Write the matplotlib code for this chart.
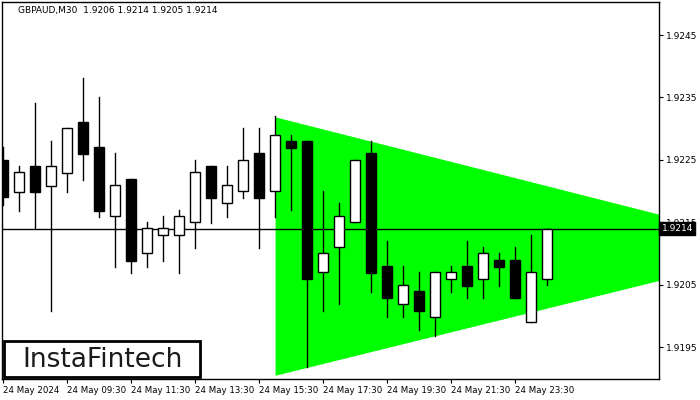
import matplotlib
matplotlib.use("Agg")
import matplotlib.pyplot as plt
from matplotlib.patches import Rectangle

#Data (GBPAUD M30, 35 candles)
opens  = [1.92250, 1.92198, 1.92240, 1.92208, 1.92229, 1.92311, 1.92271, 1.92160, 1.92219, 1.92101,
          1.92130, 1.92130, 1.92150, 1.92240, 1.92181, 1.92200, 1.92261, 1.92200, 1.92280, 1.92280,
          1.92070, 1.92110, 1.92150, 1.92261, 1.92080, 1.92019, 1.92040, 1.91998, 1.92059, 1.92080,
          1.92059, 1.92089, 1.92089, 1.91990, 1.92060]
highs  = [1.92271, 1.92240, 1.92341, 1.92280, 1.92301, 1.92381, 1.92351, 1.92261, 1.92219, 1.92150,
          1.92160, 1.92170, 1.92250, 1.92240, 1.92240, 1.92301, 1.92301, 1.92320, 1.92290, 1.92280,
          1.92200, 1.92181, 1.92250, 1.92280, 1.92120, 1.92080, 1.92070, 1.92070, 1.92080, 1.92120,
          1.92110, 1.92101, 1.92110, 1.92130, 1.92140]
lows   = [1.92178, 1.92168, 1.92141, 1.92008, 1.92198, 1.92218, 1.92158, 1.92078, 1.92069, 1.92078,
          1.92088, 1.92069, 1.92109, 1.92149, 1.92158, 1.92189, 1.92109, 1.92158, 1.92170, 1.91918,
          1.92008, 1.92019, 1.92150, 1.92038, 1.91998, 1.91998, 1.91977, 1.91968, 1.92038, 1.92029,
          1.92029, 1.92048, 1.92029, 1.91990, 1.92050]
closes = [1.92190, 1.92230, 1.92198, 1.92240, 1.92301, 1.92259, 1.92168, 1.92210, 1.92088, 1.92141,
          1.92141, 1.92160, 1.92230, 1.92189, 1.92210, 1.92250, 1.92189, 1.92290, 1.92269, 1.92059,
          1.92101, 1.92160, 1.92250, 1.92069, 1.92029, 1.92049, 1.92008, 1.92070, 1.92070, 1.92048,
          1.92101, 1.92078, 1.92029, 1.92070, 1.92140]

x_labels = ["24 May 2024", "24 May 09:30", "24 May 11:30", "24 May 13:30", "24 May 15:30",
            "24 May 17:30", "24 May 19:30", "24 May 21:30", "24 May 23:30"]
y_ticks = [1.9195, 1.9205, 1.9215, 1.9225, 1.9235, 1.9245]

#Triangle pattern (bar index, price)
tri_x = [17, 41]
tri_top = [1.92319, 1.92163]
tri_bottom = [1.91905, 1.92057]

last_price = 1.9214
title = "GBPAUD,M30  1.9206 1.9214 1.9205 1.9214"

fig = plt.figure(figsize=(7, 4), dpi=100)
ax = fig.add_axes([0.003, 0.0525, 0.9386, 0.9425])

#Green triangle
ax.fill_between(tri_x, tri_bottom, tri_top, color="#00ff00", linewidth=0, zorder=1)

#Last price line
ax.axhline(last_price, color="black", linewidth=1, zorder=2)

#Candles
w = 0.62
for i in range(len(opens)):
    o = opens[i]; h = highs[i]; l = lows[i]; c = closes[i]
    ax.plot([i, i], [l, h], color="black", linewidth=1, zorder=3)
    fc = "white" if c >= o else "black"
    ax.add_patch(Rectangle((i - w / 2, min(o, c)), w, max(abs(c - o), 0.000008),
                           facecolor=fc, edgecolor="black", linewidth=1, zorder=4))

ax.set_xlim(-0.06, 41)
ax.set_ylim(1.91899, 1.92503)

#Axes / ticks
ax.yaxis.tick_right()
ax.set_yticks(y_ticks)
ax.set_yticklabels([f"{t:.4f}" for t in y_ticks], fontsize=6.5)
ax.set_xticks(range(0, 4 * len(x_labels), 4))
ax.set_xticklabels(x_labels, fontsize=6.2, ha="left")
ax.tick_params(axis="both", direction="out", length=3, width=0.8, pad=2, colors="black")
for s in ax.spines.values():
    s.set_linewidth(1)

#Current price box
ax.text(1.004, last_price, f"{last_price:.4f}", transform=ax.get_yaxis_transform(),
        fontsize=6.5, color="white", va="center", ha="left",
        bbox=dict(boxstyle="square,pad=0.25", facecolor="black", edgecolor="black"), zorder=10)

#Title
fig.text(0.026, 0.974, title, fontsize=6.5, va="center", ha="left")

#Logo
fig.patches.append(Rectangle((0.006, 0.057), 0.280, 0.090, transform=fig.transFigure,
                             facecolor="white", edgecolor="black", linewidth=2, zorder=20))
fig.text(0.146, 0.100, "InstaFintech", fontsize=19, va="center", ha="center",
         color="#1a1a1a", zorder=21)

fig.savefig("out.png", dpi=100)
